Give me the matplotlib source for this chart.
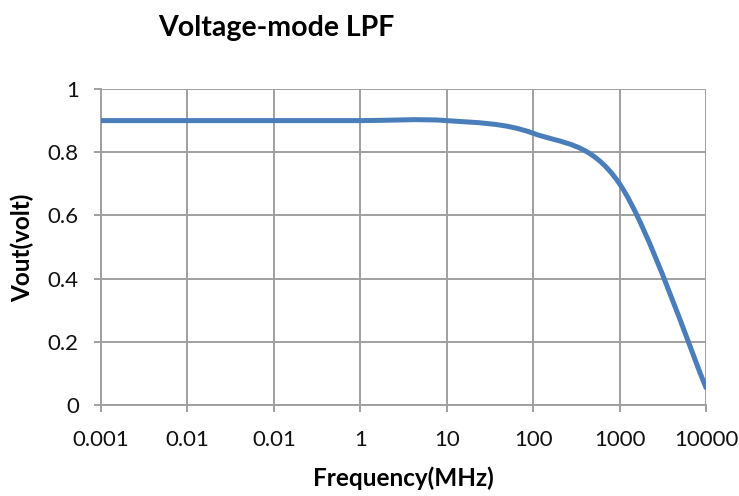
import matplotlib
matplotlib.use('Agg')
import matplotlib.pyplot as plt
from matplotlib.path import Path
from matplotlib.patches import PathPatch

plt.rcParams['font.family'] = ['Lato', 'DejaVu Sans']

# category axis, as in the original sheet
freq_labels = ['0.001', '0.01', '0.01', '1', '10', '100', '1000', '10000']
vout = [0.9, 0.9, 0.9, 0.9, 0.9, 0.86, 0.70, 0.055]

y_ticks = [0, 0.2, 0.4, 0.6, 0.8, 1]
y_labels = ['0', '0.2', '0.4', '0.6', '0.8', '1']

line_color = '#4a7ebb'
grid_color = '#a0a0a0'


def smooth_path(xs, ys):
    # Excel-style smoothed line: cubic Bezier, tangents from neighbours / 6
    n = len(xs)
    verts = [(xs[0], ys[0])]
    codes = [Path.MOVETO]
    for i in range(n - 1):
        x0, y0 = xs[i], ys[i]
        x1, y1 = xs[i + 1], ys[i + 1]
        xp, yp = (xs[i - 1], ys[i - 1]) if i > 0 else (x0, y0)
        xn, yn = (xs[i + 2], ys[i + 2]) if i + 2 < n else (x1, y1)
        c1 = (x0 + (x1 - xp) / 6, y0 + (y1 - yp) / 6)
        c2 = (x1 - (xn - x0) / 6, y1 - (yn - y0) / 6)
        verts += [c1, c2, (x1, y1)]
        codes += [Path.CURVE4] * 3
    return Path(verts, codes)


fig = plt.figure(figsize=(7.39, 4.96), dpi=100)
ax = fig.add_axes([101 / 739, 1 - 405 / 496, 605 / 739, 316 / 496])

x = list(range(len(freq_labels)))
patch = PathPatch(smooth_path(x, vout), facecolor='none', edgecolor=line_color,
                  lw=3.6, capstyle='round', joinstyle='round', zorder=3)
ax.add_patch(patch)

ax.set_xlim(0, len(x) - 1)
ax.set_ylim(0, 1)
ax.set_xticks(x)
ax.set_xticklabels(freq_labels)
ax.set_yticks(y_ticks)
ax.set_yticklabels(y_labels)

ax.grid(True, color=grid_color, lw=1.4)
ax.set_axisbelow(True)
for s in ['top', 'right']:
    ax.spines[s].set_visible(False)
for s in ['left', 'bottom']:
    ax.spines[s].set_color(grid_color)
    ax.spines[s].set_linewidth(1.4)
ax.tick_params(axis='both', colors=grid_color, length=5, width=1.4,
               labelcolor='#111111', labelsize=16)
ax.tick_params(axis='x', pad=13)
ax.tick_params(axis='y', pad=11)

fig.text(276 / 739, 1 - 28 / 496, 'Voltage-mode LPF', ha='center', va='center',
         fontsize=20.5, fontweight='bold')
fig.text(403 / 739, 1 - 478 / 496, 'Frequency(MHz)', ha='center', va='center',
         fontsize=17.5, fontweight='bold')
fig.text(22 / 739, 1 - 248 / 496, 'Vout(volt)', ha='center', va='center',
         rotation=90, fontsize=17.5, fontweight='bold')

fig.savefig('out.png', dpi=100)
